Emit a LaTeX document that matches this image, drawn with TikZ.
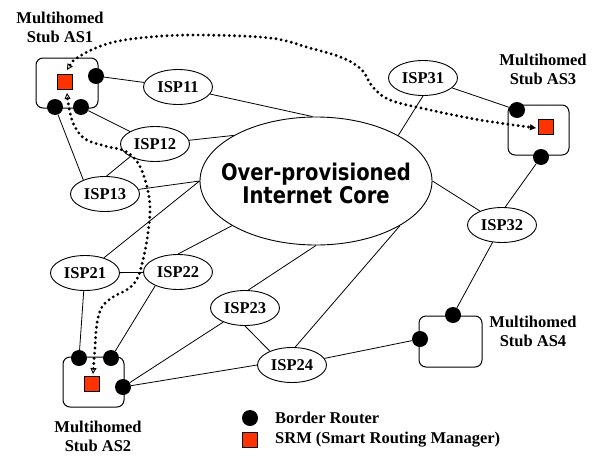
\documentclass[tikz,border=0pt]{standalone}
\usepackage{fontspec}
\setmainfont{Liberation Serif}
\newfontfamily\corefont[FakeStretch=0.85]{DejaVu Sans}
\usetikzlibrary{shapes.geometric,arrows.meta}
\definecolor{srmred}{RGB}{255,51,0}
\begin{document}
\begin{tikzpicture}[x=1pt,y=-1pt,
  lbl/.style={font=\fontsize{16.5}{19}\selectfont\bfseries, align=center, inner sep=0},
  isp/.style={draw, ellipse, line width=0.9pt, minimum width=69pt, minimum height=35pt, inner sep=0, fill=white, font=\fontsize{16.5}{19}\selectfont\bfseries},
  corestyle/.style={draw, ellipse, line width=0.9pt, minimum width=232pt, minimum height=128pt, inner sep=0},
  asbox/.style={draw, rounded corners=7pt, line width=1pt, inner sep=0},
  router/.style={circle, fill=black, minimum size=16pt, inner sep=0},
  srm/.style={draw=black, fill=srmred, minimum size=15pt, inner sep=0, line width=0.6pt},
  link/.style={line width=0.8pt},
  dotroute/.style={line width=3.2pt, line cap=round, dash pattern=on 0pt off 5.2pt},
]
\useasboundingbox (0,0) rectangle (599,455);

% stub AS boxes
\node[asbox, minimum width=62pt, minimum height=50pt] (as1) at (67,83) {};
\node[asbox, minimum width=61pt, minimum height=50pt] (as3) at (538.5,130) {};
\node[asbox, minimum width=61pt, minimum height=50pt] (as2) at (93.5,382) {};
\node[asbox, minimum width=63pt, minimum height=51pt] (as4) at (450.5,341.5) {};

% labels
\node[lbl] (l1) at (60,27) {Multihomed\\Stub AS1};
\node[lbl] (l3) at (543,69) {Multihomed\\Stub AS3};
\node[lbl] (l2) at (98,436) {Multihomed\\Stub AS2};
\node[lbl] (l4) at (533,331) {Multihomed\\Stub AS4};

% core
\node[corestyle] (core) at (316,181) {};
\node[inner sep=0, align=center, font=\corefont\fontsize{23}{21}\selectfont\bfseries] (coretxt) at (316,183) {Over-provisioned\\Internet Core};

% ISPs
\node[isp] (isp11) at (178,87) {ISP11};
\node[isp] (isp12) at (155,144) {ISP12};
\node[isp] (isp13) at (105,194) {ISP13};
\node[isp] (isp31) at (423,78) {ISP31};
\node[isp] (isp32) at (502,225) {ISP32};
\node[isp] (isp21) at (85,273) {ISP21};
\node[isp] (isp22) at (178,272) {ISP22};
\node[isp] (isp23) at (245,308) {ISP23};
\node[isp] (isp24) at (292,365) {ISP24};

% routers
\node[router] (r1a) at (96,76) {};
\node[router] (r1b) at (55,107) {};
\node[router] (r1c) at (81,107) {};
\node[router] (r3a) at (517,110) {};
\node[router] (r3b) at (541,157) {};
\node[router] (r2a) at (79,358) {};
\node[router] (r2b) at (111,358) {};
\node[router] (r2c) at (123,387) {};
\node[router] (r4a) at (453,315) {};
\node[router] (r4b) at (420,339) {};

% SRMs
\node[srm] (srm1) at (65,82) {};
\node[srm] (srm3) at (546,127) {};
\node[srm] (srm2) at (92,384) {};

% links
\draw[link] (r1a) -- (isp11);
\draw[link] (isp11) -- (core.93);
\draw[link] (r1c) -- (isp12);
\draw[link] (isp12) -- (core.151);
\draw[link] (r1b) -- (isp13.147);
\draw[link] (isp13.85) -- (isp12.207);
\draw[link] (isp13) -- (core.180);
\draw[link] (isp21) -- (core.180);
\draw[link] (isp21) -- (isp22);
\draw[link] (isp22.north) -- (core.208);
\draw[link] (isp21) -- (r2a);
\draw[link] (isp22.211) -- (r2b);
\draw[link] (r2c) -- (isp23);
\draw[link] (r2c) -- (isp24.west);
\draw[link] (isp23.south) -- (isp24.148);
\draw[link] (isp23.80) -- (core.270);
\draw[link] (isp24.80) -- (core.332);
\draw[link] (isp24) -- (r4b);
\draw[link] (isp32) -- (core.0);
\draw[link] (isp32.80) -- (r3b);
\draw[link] (isp32) -- (r4a);
\draw[link] (isp31) -- (r3a);
\draw[link] (isp31.south) -- (core.29);

% dotted SRM routes
\coordinate (a1) at (67,70);
\coordinate (a3) at (536,128);
\coordinate (b1) at (67,93);
\coordinate (b2) at (93,374);
\draw[dotroute, {Triangle[open,length=6pt,width=6pt,line width=0.9pt]}-{Triangle[length=6pt,width=6pt,line width=0.9pt]}]
  plot[smooth, tension=0.6] coordinates {(a1) (80,56) (110,43) (150,37) (200,35) (270,38) (310,48) (343,58) (362,70) (372,86) (390,100) (430,110) (480,120) (a3)};
\draw[dotroute, {Triangle[open,length=6pt,width=6pt,line width=0.9pt]}-{Triangle[open,length=6pt,width=6pt,line width=0.9pt]}]
  plot[smooth, tension=0.6] coordinates {(b1) (69,108) (74,125) (85,139) (105,146) (125,151) (138,163) (146,183) (150,207) (148,233) (143,260) (137,279) (128,289) (113,297) (102,307) (97,323) (95,347) (b2)};

% legend
\node[router] (legr) at (250,418) {};
\node[srm] (legs) at (250,440) {};
\node[lbl, anchor=west] (legrt) at (275,418) {Border Router};
\node[lbl, anchor=west] (legst) at (275,440) {SRM (Smart Routing Manager)};
\end{tikzpicture}
\end{document}
